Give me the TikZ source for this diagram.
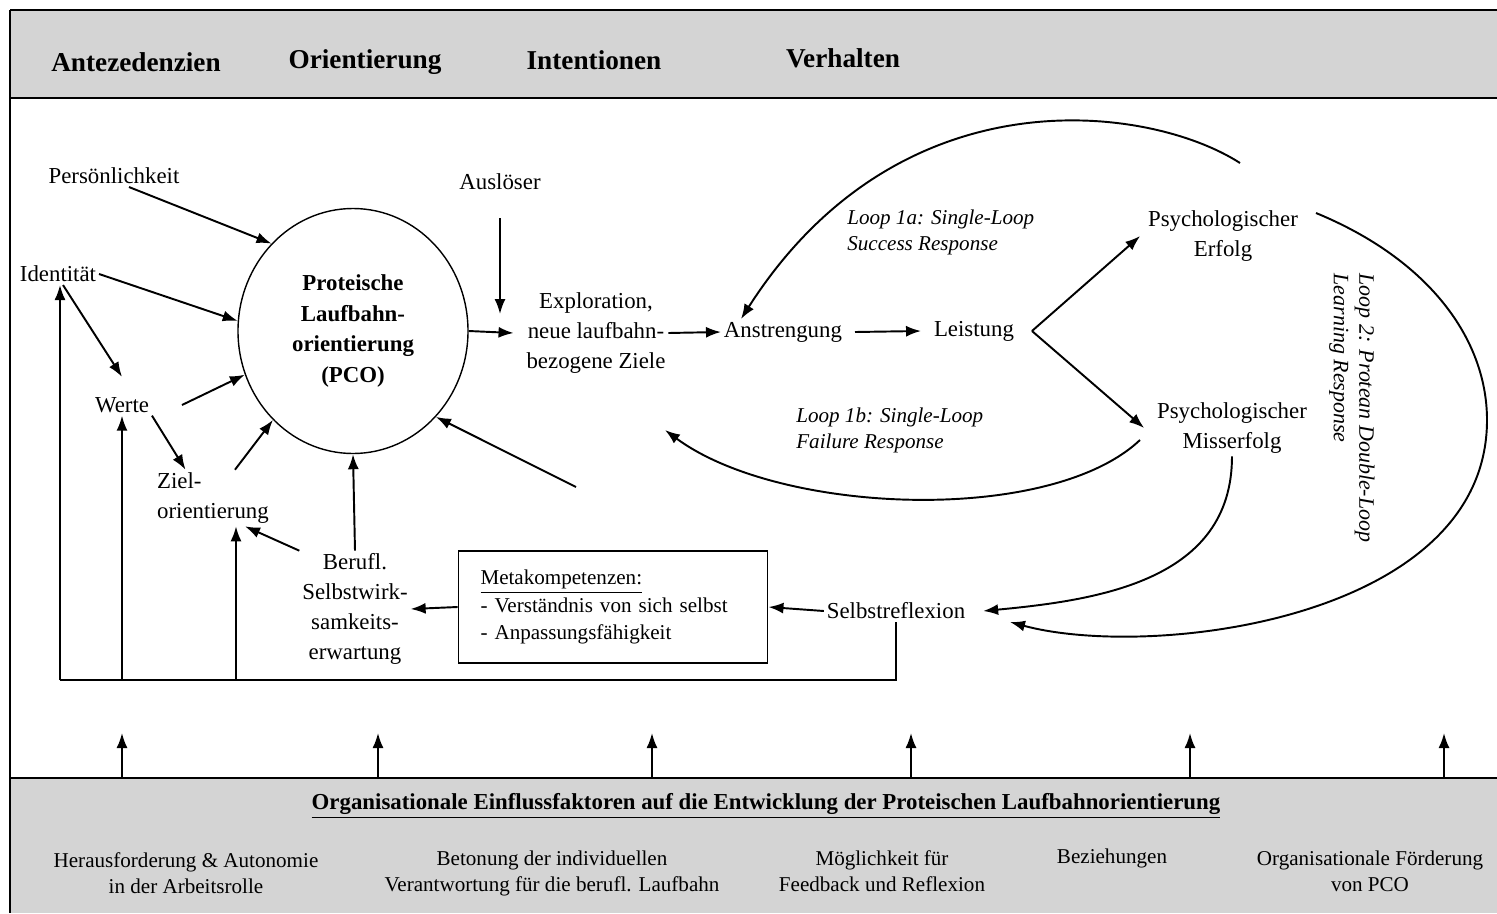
\documentclass[tikz,border=0pt]{standalone}
\usepackage{fontspec}
\setmainfont{Liberation Serif}
\usetikzlibrary{shapes.geometric, arrows.meta, positioning}

\colorlet{band}{black!17}
\tikzset{
    arr/.style={-{Latex[length=3mm, width=2.2mm]}, line width=1.1pt},
    txt/.style={font=\fontsize{13}{17}\selectfont, align=center, inner sep=1.5pt},
    looplbl/.style={font=\fontsize{12}{14.8}\selectfont\itshape, align=left, inner sep=0pt},
    head/.style={font=\fontsize{15.5}{18}\selectfont\bfseries},
    foot/.style={font=\fontsize{12}{14.8}\selectfont, align=center},
}

\begin{document}
\begin{tikzpicture}[x=0.2mm, y=-0.2mm]
    \useasboundingbox (0,0) rectangle (1497,913);

    % header and footer bands
    \fill[band] (10,10) rectangle (1497,98);
    \fill[band] (10,778) rectangle (1497,913);
    \draw[line width=1.6pt] (10,10) -- (1497,10)
        (10,98) -- (1497,98)
        (10,778) -- (1497,778);
    \draw[line width=0.8pt] (10,10) -- (10,913);

    \node[head] (hant) at (136,62) {Antezedenzien};
    \node[head] (hori) at (365,62) {Orientierung};
    \node[head] (hint) at (594,60) {Intentionen};
    \node[head] (hver) at (843,58) {Verhalten};

    % antecedents
    \node[txt] (pers) at (114,176) {Persönlichkeit};
    \node[txt] (ident) at (58,274) {Identität};
    \node[txt] (werte) at (122,405) {Werte};
    \node[txt, align=left] (ziel) at (213,498) {Ziel-\\orientierung};
    \node[txt] (beruf) at (355,609) {Berufl.\\Selbstwirk-\\samkeits-\\erwartung};
    \node[draw, line width=1.1pt, minimum width=61.8mm, minimum height=22.4mm,
        text width=53mm, inner xsep=4.4mm, align=left,
        font=\fontsize{12}{15.4}\selectfont] (meta) at (613,607)
        {\underline{Metakompetenzen:}\\- Verständnis von sich selbst\\- Anpassungsfähigkeit};
    \node[txt] (selbst) at (896,611) {Selbstreflexion};

    % orientation
    \node[draw, ellipse, line width=0.8pt, minimum width=46mm, minimum height=49mm,
        txt, font=\fontsize{13}{17.4}\selectfont\bfseries] (pco) at (353,331)
        {Proteische\\Laufbahn-\\orientierung\\(PCO)};

    % intentions and behaviour
    \node[txt] (ausl) at (500,182) {Auslöser};
    \node[txt] (expl) at (596,333) {Exploration,\\neue laufbahn-\\bezogene Ziele};
    \node[txt] (anst) at (783,332) {Anstrengung};
    \node[txt] (leist) at (974,331) {Leistung};
    \node[txt] (erf) at (1223,236) {Psychologischer\\Erfolg};
    \node[txt] (miss) at (1232,428) {Psychologischer\\Misserfolg};

    \node[looplbl, anchor=west] (l1a) at (847,232) {Loop 1a: Single-Loop\\Success Response};
    \node[looplbl, anchor=west] (l1b) at (796,430) {Loop 1b: Single-Loop\\Failure Response};
    \node[looplbl, font=\fontsize{12.5}{14.5}\selectfont\itshape, rotate=-90] (l2) at (1352,408)
        {Loop 2: Protean Double-Loop\\Learning Response};

    \coordinate (trig) at (500,314);
    \coordinate (v) at ([xshift=3mm]leist.east);
    \coordinate (a1) at (1240,163);
    \coordinate (b1) at (1140,440);
    \coordinate (b2) at (665,430);
    \coordinate (rr) at (576,487);
    \coordinate (c1) at (1316,213);
    \coordinate (c2) at (1010,622);
    \coordinate (fb) at (60,680);

    \draw[arr] ([xshift=3mm]pers.south) -- (pco.133);
    \draw[arr] (ident.east) -- (pco.175);
    \draw[arr] ([xshift=1mm]ident.south) -- ([yshift=3.5mm]werte.north);
    \draw[arr] ([xshift=6mm]werte.east) -- (pco.202);
    \draw[arr] (werte.south east) -- ([xshift=-5.5mm]ziel.north);
    \draw[arr] ([xshift=4.4mm]ziel.north) -- (pco.228);
    \draw[arr] (beruf.north west) -- ([xshift=6.4mm]ziel.south);
    \draw[arr] (beruf.north) -- (pco.south);
    \draw[arr] (rr) -- (pco.314);
    \draw[arr] (selbst.west) -- (meta.east);
    \draw[arr] (meta.west) -- (beruf.east);

    \draw[arr] ([yshift=-5mm]ausl.south) -- (trig);
    \draw[arr] (pco.east) -- ([xshift=-2mm]expl.west);
    \draw[arr] (expl.east) -- (anst.west);
    \draw[arr] ([xshift=2mm]anst.east) -- ([xshift=-2mm]leist.west);
    \draw[arr] (v) -- ([xshift=-1mm]erf.west);
    \draw[arr] (v) -- ([xshift=-2mm]miss.west);

    % loops
    \draw[arr] (a1) .. controls (1150,105) and (900,70) .. ([xshift=4mm]anst.north west);
    \draw[arr] (b1) .. controls (1050,525) and (780,515) .. (b2);
    \draw[arr] (miss.south) .. controls (1232,580) and (1100,600) .. ([xshift=3mm]selbst.east);
    \draw[arr] (c1) .. controls (1430,260) and (1487,340) .. (1487,420)
        .. controls (1487,620) and (1150,660) .. (c2);

    % feedback to antecedents
    \draw[line width=1.1pt] (selbst.south) |- (fb);
    \draw[arr] (fb) -- (fb |- ident.south);
    \draw[arr] (werte.south |- fb) -- (werte.south);
    \draw[arr] ([xshift=4.6mm]ziel.south |- fb) -- ([xshift=4.6mm]ziel.south);

    % organisational factors
    \foreach \x [count=\i] in {122,378,652,911,1190,1444} {
        \coordinate (up\i) at (\x,778);
        \draw[arr] (up\i) -- ++(0,-45);
    }
    \node[font=\fontsize{13}{15}\selectfont\bfseries] (ftitle) at (766,806)
        {\underline{Organisationale Einflussfaktoren auf die Entwicklung der Proteischen Laufbahnorientierung}};
    \node[foot] (f1) at (186,873) {Herausforderung \& Autonomie\\in der Arbeitsrolle};
    \node[foot] (f2) at (552,873) {Betonung der individuellen\\Verantwortung für die berufl. Laufbahn};
    \node[foot] (f3) at (882,871) {Möglichkeit für\\Feedback und Reflexion};
    \node[foot] (f4) at (1112,858) {Beziehungen};
    \node[foot] (f5) at (1370,871) {Organisationale Förderung\\von PCO};
\end{tikzpicture}
\end{document}
